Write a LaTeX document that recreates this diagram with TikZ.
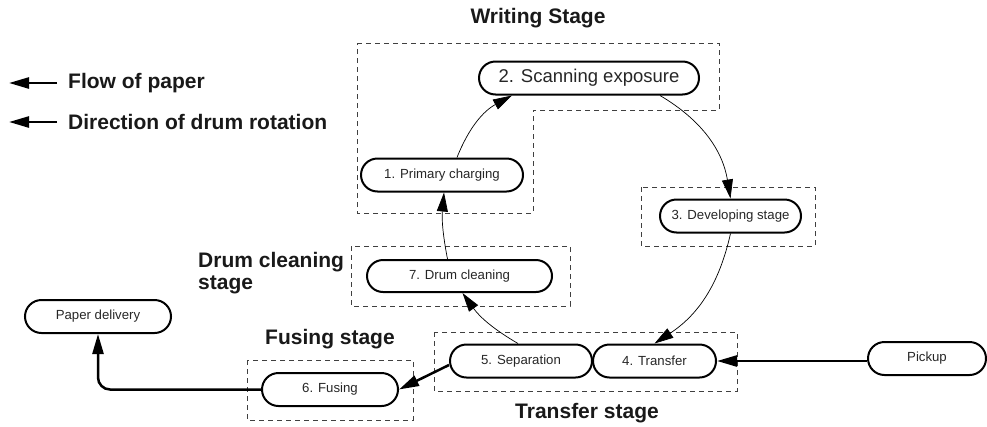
\documentclass[tikz,border=0pt]{standalone}
\usepackage{fontspec}
\setmainfont{Liberation Sans}
\usetikzlibrary{shapes.misc,arrows.meta}
\begin{document}
\begin{tikzpicture}[x=1pt,y=-1pt,
  stagebox/.style={draw=black!75,line width=0.8pt,dash pattern=on 5pt off 4pt},
  proc/.style={draw,line width=2pt,rounded rectangle,minimum height=33pt,inner sep=0pt,
     font=\fontsize{13.2}{15}\selectfont,text=black!85},
  biglabel/.style={font=\fontsize{21}{24}\selectfont\bfseries,text=black!90,inner sep=0pt},
  drum/.style={line width=0.7pt,-{Triangle[length=19pt,width=11pt]}},
  paper/.style={line width=2.5pt,-{Triangle[length=20pt,width=11pt]}}]
\useasboundingbox (0,0) rectangle (987,426);
% stage boxes
\draw[stagebox] (357,43) -- (719,43) -- (719,110) -- (533,110) -- (533,213) -- (357,213) -- cycle;
\draw[stagebox] (641,187) rectangle (815,246);
\draw[stagebox] (351,246) rectangle (570,306);
\draw[stagebox] (434,332) rectangle (737,391);
\draw[stagebox] (247,360) rectangle (413,420);
% labels
\node[biglabel] (lw) at (538,18) {Writing Stage};
\node[biglabel] (lt) at (587,413) {Transfer stage};
\node[biglabel] (lf) at (330,339) {Fusing stage};
\node[biglabel,anchor=west,align=left] (ld) at (198,273) {Drum cleaning\\[-2pt]stage};
\node[biglabel,anchor=west] (lp) at (68,83) {Flow of paper};
\node[biglabel,anchor=west] (lr) at (68,122) {Direction of drum rotation};
% nodes
\node[proc,minimum width=220pt,font=\fontsize{18.5}{21}\selectfont] (n2) at (589,78) {2. Scanning exposure};
\node[proc,minimum width=162pt] (n1) at (442,175) {1. Primary charging};
\node[proc,minimum width=141pt] (n3) at (730.5,216) {3. Developing stage};
\node[proc,minimum width=123pt] (n4) at (654.5,361) {4. Transfer};
\node[proc,minimum width=142pt] (n5) at (521,361) {5. Separation};
\node[proc,minimum width=185pt,minimum height=32pt] (n7) at (459.5,276) {7. Drum cleaning};
\node[proc,minimum width=136pt] (n6) at (330,389.5) {6. Fusing};
\node[proc,minimum width=146pt] (pd) at (98,316.5) {Paper delivery};
\node[proc,minimum width=118pt] (pk) at (927,358.5) {Pickup};
% drum rotation connectors
\draw[drum] ([xshift=15pt]n1.north) to[bend left=20] ([xshift=-77pt]n2.south);
\draw[drum] ([xshift=71pt]n2.south) to[bend left=25] (n3.north);
\draw[drum] (n3.south) to[bend left=22] (n4.north);
\draw[drum] ([xshift=-3pt]n5.north) to[bend left=12] ([xshift=3pt]n7.south);
\draw[drum] ([xshift=-12pt]n7.north) to[bend left=8] ([xshift=2pt]n1.south);
% paper flow connectors
\draw[paper] ([yshift=-2.5pt]pk.west) -- (n4.east);
\draw[paper] ([yshift=-4pt]n5.west) -- (n6.east);
\draw[paper,rounded corners=12pt] (n6.west) -| (pd.south);
% legend
\coordinate (a1) at (57,83); \coordinate (b1) at (9,83);
\coordinate (a2) at (57,122); \coordinate (b2) at (9,122);
\draw[paper] (a1) -- (b1);
\draw[paper] (a2) -- (b2);
\end{tikzpicture}
\end{document}
